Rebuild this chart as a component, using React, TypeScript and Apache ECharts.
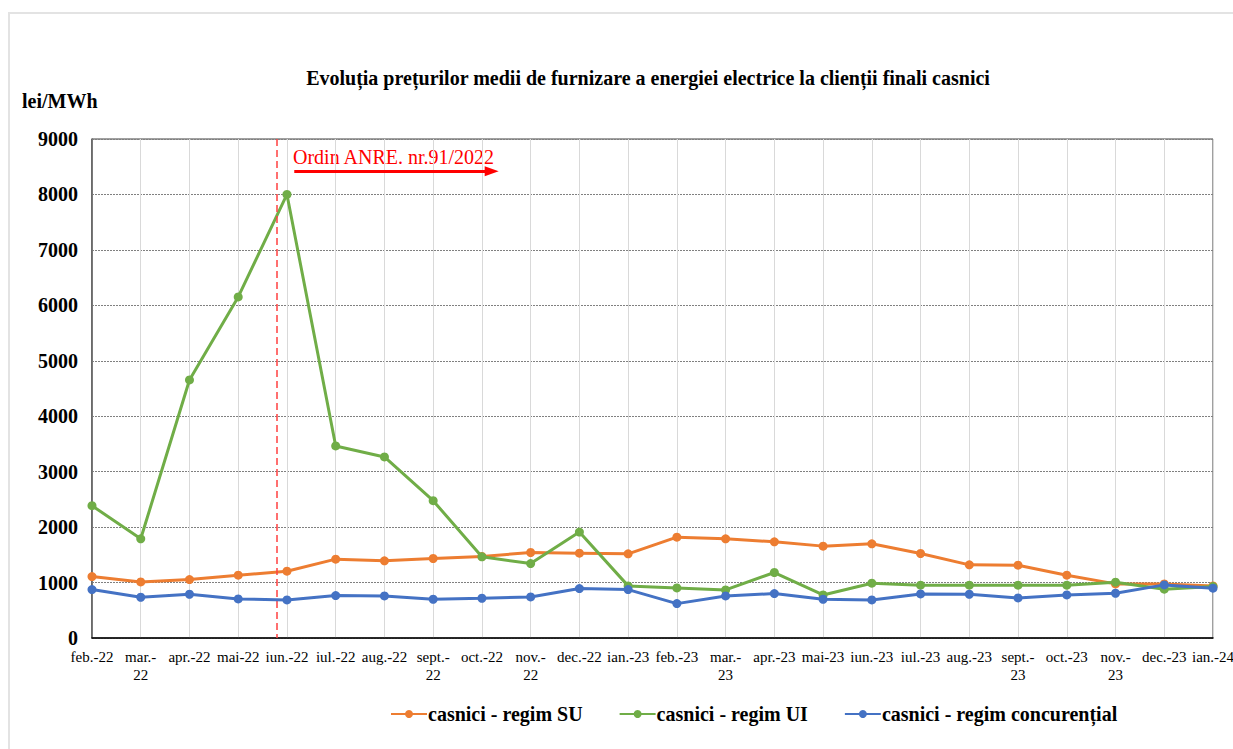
import React, { useEffect, useRef } from "react";
import * as echarts from "echarts";

const categories = [
  "feb.-22", "mar.-\n22", "apr.-22", "mai-22", "iun.-22", "iul.-22", "aug.-22", "sept.-\n22",
  "oct.-22", "nov.-\n22", "dec.-22", "ian.-23", "feb.-23", "mar.-\n23", "apr.-23", "mai-23",
  "iun.-23", "iul.-23", "aug.-23", "sept.-\n23", "oct.-23", "nov.-\n23", "dec.-23", "ian.-24",
];
const seriesSU = [1108, 1012, 1054, 1133, 1205, 1422, 1392, 1434, 1470, 1542, 1530, 1518, 1819, 1789, 1735, 1657, 1699, 1524, 1319, 1313, 1133, 976, 976, 940];
const seriesUI = [2386, 1789, 4654, 6152, 8000, 3464, 3265, 2476, 1464, 1343, 1910, 940, 904, 867, 1181, 777, 988, 952, 952, 952, 952, 1006, 880, 928];
const seriesConc = [873, 735, 789, 705, 687, 765, 759, 699, 717, 741, 892, 873, 620, 759, 801, 699, 687, 795, 789, 723, 777, 807, 958, 898];
const yTicks = { min: 0, max: 9000, interval: 1000 };
const seriesNames = ["casnici - regim SU", "casnici - regim UI", "casnici - regim concurențial"];
const colors = ["#ED7D31", "#70AD47", "#4472C4"];
// annotation: order line position (in category index units) and arrow span
const orderLineX = 3.8;
const arrowFrom = 4.15;
const arrowTo = 8.2;
const arrowY = 8420;

const serif = "Liberation Serif";

export default function App() {
  const ref = useRef<HTMLDivElement>(null);
  useEffect(() => {
    if (!ref.current) return;
    document.body.style.margin = "0";
    document.body.style.overflow = "hidden";
    const chart = echarts.init(ref.current, undefined, { renderer: "svg" });
    const datas = [seriesSU, seriesUI, seriesConc];
    const mainSeries = seriesNames.map((name, i) => ({
      name,
      type: "line",
      data: datas[i],
      symbol: "circle",
      symbolSize: 9,
      lineStyle: { width: 3, color: colors[i] },
      itemStyle: { color: colors[i] },
      z: 3 + i,
    }));
    chart.setOption({
      animation: false,
      backgroundColor: "#fff",
      title: {
        text: "Evoluția prețurilor medii de furnizare a energiei electrice la clienții finali casnici",
        left: 643,
        textAlign: "center",
        top: 63,
        textStyle: { fontFamily: serif, fontSize: 20, fontWeight: "bold", color: "#000" },
      },
      legend: {
        top: 699,
        left: 385,
        itemGap: 36,
        itemWidth: 36,
        itemHeight: 10,
        data: seriesNames,
        textStyle: { fontFamily: serif, fontSize: 20, fontWeight: "bold", color: "#000", padding: [0, 0, 0, -4] },
      },
      grid: {
        left: 92, right: 20, top: 139, bottom: 111,
        outerBoundsMode: "none", containLabel: false,
        show: true, borderColor: "#404040", borderWidth: 1,
      },
      xAxis: [
        {
          type: "category",
          data: categories,
          boundaryGap: false,
          axisLine: { lineStyle: { color: "#000", width: 1.5 } },
          axisTick: { show: false },
          axisLabel: { interval: 0, fontFamily: serif, fontSize: 15, color: "#000", margin: 10, lineHeight: 18 },
          splitLine: { show: true, interval: 0, lineStyle: { color: "#d9d9d9", width: 1 } },
        },
        { type: "value", min: 0, max: categories.length - 1, show: false },
      ],
      yAxis: {
        type: "value",
        min: yTicks.min,
        max: yTicks.max,
        interval: yTicks.interval,
        name: "lei/MWh",
        nameLocation: "end",
        nameGap: 28,
        nameTextStyle: { fontFamily: serif, fontSize: 20, fontWeight: "bold", color: "#000", align: "left", padding: [0, 0, 0, -70] },
        axisLine: { show: true, lineStyle: { color: "#595959", width: 1.5 } },
        axisTick: { show: false },
        axisLabel: { fontFamily: serif, fontSize: 20, fontWeight: "bold", color: "#000", margin: 14, formatter: (v: number) => String(v) },
        splitLine: { show: true, lineStyle: { color: "#808080", type: [2, 1], width: 1 } },
      },
      graphic: [
        {
          type: "rect",
          shape: { x: 9, y: 13, width: 1400, height: 900 },
          style: { fill: "none", stroke: "#e3e3e3", lineWidth: 2 },
          z: -1,
          silent: true,
        },
        {
          type: "text",
          left: 293,
          top: 147,
          style: { text: "Ordin ANRE. nr.91/2022", fontFamily: serif, fontSize: 20, fill: "#FF0000" },
        },
      ],
      series: [
        ...mainSeries,
        {
          name: "annotation",
          type: "line",
          xAxisIndex: 1,
          data: [],
          silent: true,
          markLine: {
            silent: true,
            symbol: ["none", "none"],
            label: { show: false },
            data: [
              [
                { coord: [orderLineX, yTicks.max], lineStyle: { color: "#FF4040", type: [7, 4], width: 1.5 } },
                { coord: [orderLineX, yTicks.min] },
              ],
              [
                { coord: [arrowFrom, arrowY], symbol: "none", lineStyle: { color: "#FF0000", type: "solid", width: 3 } },
                { coord: [arrowTo, arrowY], symbol: "triangle", symbolSize: [10, 14], symbolRotate: -90 },
              ],
            ],
          },
        },
      ],
    });
    return () => chart.dispose();
  }, []);
  return <div ref={ref} style={{ width: 1233, height: 749 }} />;
}
